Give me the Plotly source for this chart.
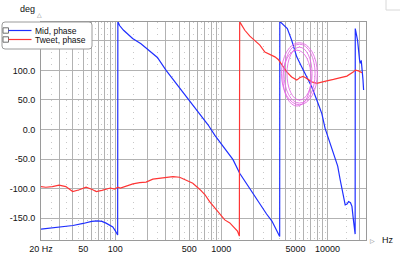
import math
import plotly.graph_objects as go

# ---------------- data ----------------
mid_freq = [20, 30, 40, 50, 60, 68, 75, 82, 90, 95, 100, 103, 105.5, 106, 110, 120, 135, 146, 175, 210,
            250, 302, 360, 434, 520, 625, 750, 870, 1000, 1100, 1290, 1490, 1700, 1860, 2150, 2450,
            2670, 3000, 3200, 3500, 3550, 3560, 3710, 4190, 4605, 5140, 5730, 6385, 7125, 7943, 8860,
            9510, 10610, 11200, 11830, 12500, 13190, 14000, 14710, 15300, 15820, 16500, 17030, 17500,
            17900, 18250, 18300, 19240, 20100, 20400, 20840, 21170, 21640, 21930]
mid_phase = [-168.5, -165.5, -162.5, -159, -155.5, -154.5, -155.5, -158.5, -162, -165, -171, -175, -178.5,
             183, 176, 168, 159, 154, 145, 134,
             122, 100, 82, 64, 46, 27, 8, -10, -25, -35, -51, -74, -90, -99, -118, -133,
             -143, -155, -164, -179, -181, 183, 180, 171, 151, 123, 106, 89, 72, 50, 27,
             2, -23, -38, -51.5, -62, -85, -108, -127.5, -126, -122, -124, -130, -150,
             -170, -177, 171, 151, 117, 112, 117, 106, 84, 67]

tweet_freq = [20, 22.2, 25.6, 29.6, 34.3, 39.8, 45.9, 53.2, 61.5, 66.3, 75, 82.5, 90, 98.9, 105.8, 112,
              122.5, 135, 146.8, 170, 195.6, 226.4, 260, 303, 350, 405, 466, 539, 624, 700, 776, 866,
              966, 1078, 1203, 1340, 1420, 1480, 1490, 1517, 1666, 1858, 2071, 2309, 2574, 2869, 3199,
              3440, 3710, 4135, 4605, 5140, 5520, 5900, 6385, 6800, 7125, 7943, 8860, 9870, 11400,
              13190, 15270, 17630, 18300, 19640, 21170]
tweet_phase = [-96.6, -97.7, -96.6, -94.3, -96.6, -105, -102, -97.7, -102, -105, -103, -101, -99, -101,
               -97.7, -99, -96.6, -93, -92, -90, -89, -84, -83, -80.8, -79.7, -80.8, -85.3, -91, -101,
               -110, -122, -133, -144, -153, -158, -166, -172, -180.5, 183, 180, 168, 158, 151, 143,
               131, 127, 123, 118.6, 109, 97.6, 89, 83.6, 88, 90, 86.5, 83.6, 80.7, 78, 80.7, 82.4,
               84.8, 87.5, 90.4, 97.6, 100.5, 99.3, 96]

x_range_hz = [20, 23100]
y_range = [-187, 182]
y_ticks = [-150, -100, -50, 0, 50, 100, 150]
y_tick_text = ["-150.0", "-100.0", "-50.0", "0.0", "50.0", "100.0", ""]
x_label_map = {20: "20 Hz", 50: "50", 100: "100", 500: "500", 1000: "1000", 5000: "5000", 10000: "10000"}
x_grid = [m * d for d in (10, 100, 1000, 10000) for m in range(1, 10) if 20 <= m * d <= 20000]
x_minor = [(m + 0.5) * d for d in (10, 100, 1000, 10000) for m in range(1, 10) if 20 <= (m + 0.5) * d <= 23000]

# highlight ellipses: (f_left, f_right, deg_bottom, deg_top)
ellipses = [(3690, 8030, 42, 147), (3896, 7652, 44.8, 144.4), (4158, 7168, 49.8, 139.4), (3810, 7015, 39.7, 134.3)]

legend_names = ["Mid, phase", "Tweet, phase"]
legend_colors = ["#1f2fff", "#ff3535"]

# ---------------- figure ----------------
W, H = 400, 259
L, R, T, B = 41, 34, 22, 19
pw, ph = W - L - R, H - T - B

def px(x):
    return (x - L) / pw

def py(y):
    return (H - B - y) / ph

fig = go.Figure()
fig.add_trace(go.Scatter(x=mid_freq, y=mid_phase, mode="lines", name=legend_names[0],
                         line=dict(color=legend_colors[0], width=1.2)))
fig.add_trace(go.Scatter(x=tweet_freq, y=tweet_phase, mode="lines", name=legend_names[1],
                         line=dict(color=legend_colors[1], width=1.2)))

shapes = []
for f0, f1, d0, d1 in ellipses:
    shapes.append(dict(type="circle", xref="x", yref="y", x0=f0, x1=f1, y0=d0, y1=d1,
                       line=dict(color="rgba(228,100,228,0.85)", width=1)))

# manual legend
lx0, lx1, ly0, ly1, r = 2, 92, 22, 49, 3
path = (f"M {px(lx0+r)},{py(ly0)} L {px(lx1-r)},{py(ly0)} Q {px(lx1)},{py(ly0)} {px(lx1)},{py(ly0+r)} "
        f"L {px(lx1)},{py(ly1-r)} Q {px(lx1)},{py(ly1)} {px(lx1-r)},{py(ly1)} "
        f"L {px(lx0+r)},{py(ly1)} Q {px(lx0)},{py(ly1)} {px(lx0)},{py(ly1-r)} "
        f"L {px(lx0)},{py(ly0+r)} Q {px(lx0)},{py(ly0)} {px(lx0+r)},{py(ly0)} Z")
shapes.append(dict(type="path", xref="paper", yref="paper", path=path, fillcolor="white",
                   line=dict(color="#9a9a9a", width=1), layer="above"))
annotations = []
for i, (nm, col) in enumerate(zip(legend_names, legend_colors)):
    yc = 30.5 + 9 * i
    shapes.append(dict(type="rect", xref="paper", yref="paper", x0=px(3), x1=px(8.5), y0=py(yc - 2.7), y1=py(yc + 2.7),
                       line=dict(color="#707070", width=1), fillcolor="white", layer="above"))
    shapes.append(dict(type="line", xref="paper", yref="paper", x0=px(8.5), x1=px(31.5), y0=py(yc), y1=py(yc),
                       line=dict(color=col, width=1.2), layer="above"))
    annotations.append(dict(xref="paper", yref="paper", x=px(33), y=py(yc), text=nm, showarrow=False,
                            xanchor="left", yanchor="middle", font=dict(size=8.5, color="#111")))

# top-right small box
shapes.append(dict(type="rect", xref="paper", yref="paper", x0=px(386), x1=px(401), y0=py(10), y1=py(-1),
                   line=dict(color="#d8d8d8", width=1)))

annotations += [
    dict(xref="paper", yref="paper", x=px(27), y=py(9.5), text="deg", showarrow=False,
         xanchor="center", yanchor="middle", font=dict(size=9, color="#111")),
    dict(xref="paper", yref="paper", x=px(39), y=py(15), text="△", showarrow=False,
         xanchor="center", yanchor="middle", font=dict(size=6, color="#777")),
    dict(xref="paper", yref="paper", x=px(372), y=py(241), text="▷", showarrow=False,
         xanchor="center", yanchor="middle", font=dict(size=6, color="#777")),
    dict(xref="paper", yref="paper", x=px(388), y=py(240.5), text="Hz", showarrow=False,
         xanchor="center", yanchor="middle", font=dict(size=9, color="#111")),
]

fig.update_layout(
    width=W, height=H, margin=dict(l=L, r=R, t=T, b=B, autoexpand=False),
    paper_bgcolor="white", plot_bgcolor="white", showlegend=False,
    font=dict(family="Liberation Sans, Arial, sans-serif", size=9, color="#111"),
    shapes=shapes, annotations=annotations,
)
fig.update_xaxes(
    type="log", range=[math.log10(x_range_hz[0]), math.log10(x_range_hz[1])],
    tickmode="array", tickvals=x_grid, ticktext=[x_label_map.get(v, "") for v in x_grid],
    ticks="", showgrid=True, gridcolor="#b2b2b2", gridwidth=1, automargin=False,
    showline=True, linecolor="#9a9a9a", mirror=True, zeroline=False,
    tickfont=dict(size=9), tickangle=0,
    minor=dict(tickmode="array", tickvals=x_minor, showgrid=True, gridcolor="#c8c8c8",
               griddash="1px,5px", gridwidth=1, ticks=""),
)
fig.update_yaxes(
    range=y_range, tickmode="array", tickvals=y_ticks, ticktext=y_tick_text,
    ticks="", showgrid=True, gridcolor="#b2b2b2", gridwidth=1, automargin=False,
    showline=True, linecolor="#9a9a9a", mirror=True, zeroline=False,
    tickfont=dict(size=9), ticklabelstandoff=3,
)

fig.write_html("out.html")
